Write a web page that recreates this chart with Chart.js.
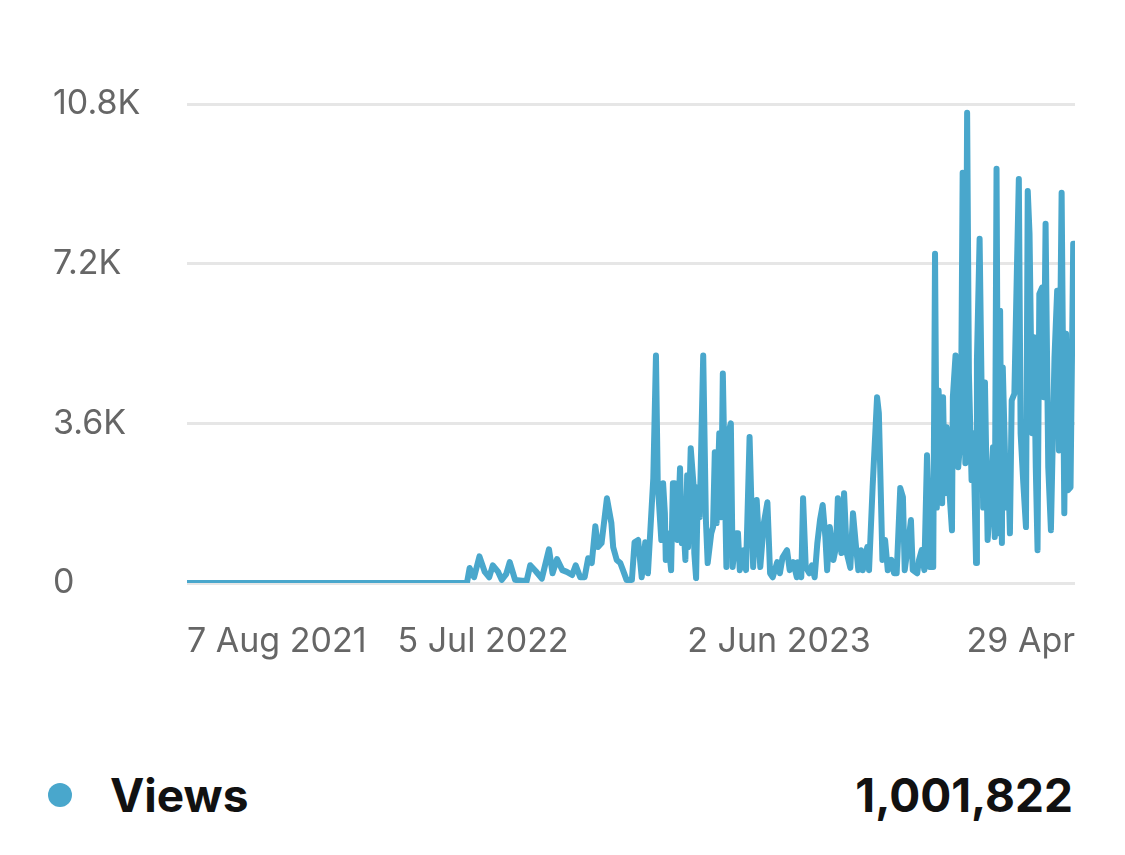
<!DOCTYPE html>
<html>
<head>
<meta charset="utf-8">
<title>Views</title>
<script src="https://cdn.jsdelivr.net/npm/chart.js@4.4.1/dist/chart.umd.min.js"></script>
<style>
  html, body { margin:0; padding:0; background:#fff; }
  body { width:1125px; height:855px; position:relative; overflow:hidden; font-family:Inter, Roboto, "Noto Sans", sans-serif; }
  .chart-wrap { position:absolute; left:0; top:0; width:1125px; height:700px; }
  .legend-row { position:absolute; left:0; top:765px; width:1125px; height:60px; }
  .legend-dot { position:absolute; left:48px; top:18px; width:24px; height:24px; border-radius:50%; background:#49a7cc; }
  .legend-name { position:absolute; left:110px; top:0; font-size:46px; font-weight:700; color:#111; line-height:60px; }
  .legend-total { position:absolute; right:52px; top:0; font-size:46px; font-weight:700; color:#111; line-height:60px; }
</style>
</head>
<body>
<div class="chart-wrap"><canvas id="viewsChart"></canvas></div>
<div class="legend-row">
  <span class="legend-dot"></span>
  <span class="legend-name">Views</span>
  <span class="legend-total" id="viewsTotal">1,001,822</span>
</div>
<script>
/* ---------- Data (days since 7 Aug 2021, daily views) ---------- */
const tickDays   = [0, 332, 664, 996];
const tickLabels = ['7 Aug 2021', '5 Jul 2022', '2 Jun 2023', '29 Apr'];
const yTicks     = [0, 3600, 7200, 10800];

const dayOffsets = [
  0, 314, 317, 322, 328, 334, 339, 343, 349, 353, 358, 362, 368, 376, 381, 385, 391, 398,
  406, 410, 415, 421, 426, 432, 436, 441, 446, 450, 454, 458, 461, 465, 471, 476, 478, 482,
  486, 489, 493, 499, 502, 506, 510, 514, 517, 523, 526, 528, 532, 534, 536, 537, 539, 543,
  545, 547, 550, 553, 555, 557, 559, 561, 562, 565, 568, 569, 571, 573, 575, 579, 582, 584,
  588, 590, 592, 594, 597, 599, 601, 605, 607, 610, 612, 616, 618, 620, 624, 627, 631, 635,
  639, 643, 647, 651, 654, 657, 662, 665, 668, 673, 676, 680, 684, 685, 689, 691, 694, 698,
  701, 704, 707, 710, 713, 716, 718, 721, 725, 728, 730, 734, 737, 740, 744, 747, 750, 753,
  756, 758, 763, 765, 769, 774, 776, 780, 783, 786, 790, 793, 796, 800, 803, 805, 808, 812,
  814, 819, 821, 824, 827, 830, 832, 833, 837, 839, 841, 843, 847, 848, 850, 852, 855, 858,
  859, 862, 865, 868, 870, 873, 875, 877, 880, 882, 885, 886, 889, 893, 895, 898, 901, 904,
  906, 908, 910, 912, 914, 915, 919, 921, 923, 925, 928, 931, 933, 935, 938, 941, 943, 945,
  948, 950, 952, 954, 956, 959, 961, 963, 966, 969, 973, 976, 978, 981, 984, 986, 988, 991,
  994, 996
];

const views = [
  0, 0, 340, 130, 600, 250, 130, 400, 250, 70, 200, 470, 70, 50, 50, 400, 270, 100,
  760, 220, 540, 290, 250, 180, 400, 130, 130, 560, 450, 1280, 810, 900, 1910, 1350, 810, 520,
  450, 290, 70, 70, 920, 970, 130, 920, 220, 2360, 5130, 2250, 970, 2250, 1575, 520, 1120, 290,
  2250, 2250, 970, 2590, 900, 1260, 520, 2430, 810, 3040, 2250, 675, 110, 2160, 1485, 5130, 1420, 450,
  1120, 1260, 2950, 1350, 3375, 1485, 4725, 360, 3375, 3600, 360, 1120, 1120, 290, 740, 290, 3290, 360,
  1870, 360, 1350, 1820, 220, 130, 470, 220, 580, 740, 290, 470, 130, 470, 130, 1910, 360, 220,
  400, 130, 900, 1420, 1760, 1035, 290, 1260, 520, 810, 1910, 675, 2025, 675, 340, 1575, 900, 290,
  740, 290, 810, 290, 2160, 4190, 3830, 520, 970, 290, 520, 220, 220, 2140, 1935, 290, 740, 1420,
  290, 220, 520, 740, 290, 2880, 1600, 360, 360, 7425, 1700, 4340, 1800, 4190, 2025, 3510, 2100, 1190,
  4190, 5130, 2610, 3375, 9250, 2700, 10600, 4725, 2320, 3375, 450, 5020, 7760, 1700, 4520, 970, 1870, 3060,
  1035, 9340, 1120, 6140, 900, 4860, 1700, 2610, 1120, 4120, 4270, 7220, 9110, 3375, 2250, 1260, 8840, 7870,
  3375, 5540, 2610, 740, 6520, 6660, 4190, 8100, 2610, 1190, 5090, 6590, 2990, 8800, 1575, 5620, 2090, 2160,
  7650, 7650
];

const LINE_COLOR = '#49a7cc';
const TICK_COLOR = '#666666';
const GRID_COLOR = '#e6e6e6';
const TICK_FONT  = { family: 'Inter', size: 34 };

function formatK(v){
  if(v === 0) return '0';
  return (v / 1000).toFixed(1) + 'K';
}

document.addEventListener('DOMContentLoaded', () => {
  const ctx = document.getElementById('viewsChart').getContext('2d');
  const points = dayOffsets.map((d, i) => ({ x: d, y: views[i] }));

  new Chart(ctx, {
    type: 'line',
    data: {
      datasets: [{
        label: 'Views',
        data: points,
        borderColor: LINE_COLOR,
        borderWidth: 6,
        borderJoinStyle: 'round',
        borderCapStyle: 'round',
        pointRadius: 0,
        tension: 0,
        fill: false
      }]
    },
    options: {
      responsive: true,
      maintainAspectRatio: false,
      animation: false,
      layout: { padding: { left: 53, right: 50, top: 104, bottom: 0 } },
      plugins: { legend: { display: false }, tooltip: { enabled: false } },
      scales: {
        x: {
          type: 'linear',
          min: tickDays[0],
          max: tickDays[tickDays.length - 1],
          afterBuildTicks: (axis) => { axis.ticks = tickDays.map(v => ({ value: v })); },
          afterFit: (axis) => { axis.height = 117; },
          grid: { display: false },
          border: { display: false },
          ticks: {
            align: 'inner',
            maxRotation: 0,
            autoSkip: false,
            padding: 30,
            color: TICK_COLOR,
            font: TICK_FONT,
            callback: (v) => tickLabels[tickDays.indexOf(v)]
          }
        },
        y: {
          min: 0,
          max: yTicks[yTicks.length - 1],
          afterBuildTicks: (axis) => { axis.ticks = yTicks.map(v => ({ value: v })); },
          afterFit: (axis) => { axis.width = 134; },
          grid: { color: GRID_COLOR, lineWidth: 3, drawTicks: false },
          border: { display: false },
          ticks: {
            crossAlign: 'far',
            padding: 0,
            color: TICK_COLOR,
            font: TICK_FONT,
            callback: (v) => formatK(v)
          }
        }
      }
    }
  });
});
</script>
</body>
</html>
